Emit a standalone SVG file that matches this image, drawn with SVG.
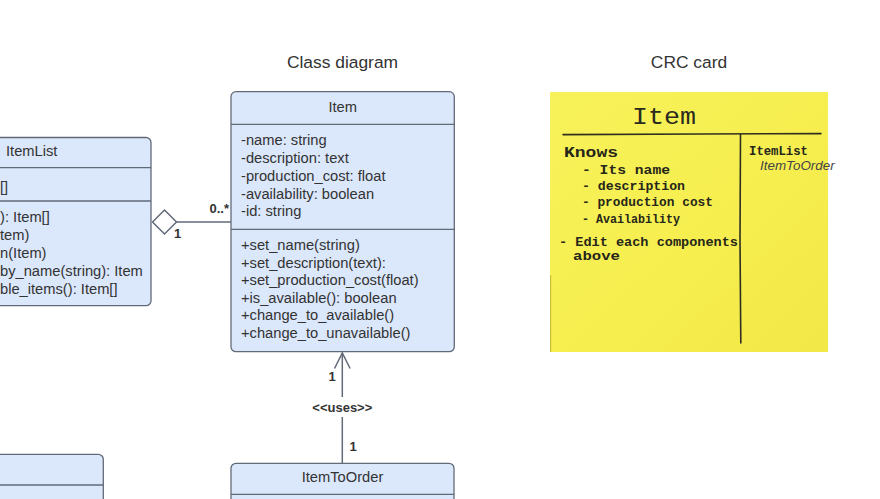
<svg xmlns="http://www.w3.org/2000/svg" width="880" height="499" viewBox="0 0 880 499">
<defs>
<style>
.box{fill:#dbe7fb;stroke:#626a78;stroke-width:1.3}
.div{stroke:#626a78;stroke-width:1.3;fill:none}
.t{font-family:"Liberation Sans",Arial,sans-serif;font-size:14.7px;fill:#333}
.title{font-family:"Liberation Sans",Arial,sans-serif;font-size:17.4px;fill:#333;text-anchor:middle}
.lbl{font-family:"Liberation Sans",Arial,sans-serif;font-size:13px;font-weight:bold;fill:#333}
.conn{stroke:#626a78;stroke-width:1.5;fill:none}
.hand{font-family:"Liberation Mono","DejaVu Sans Mono",monospace;fill:#26261a;font-weight:bold}
.ink{stroke:#2f2f20;stroke-width:1.6;fill:none;stroke-linecap:round}
</style>
<linearGradient id="note" x1="0" y1="0" x2="1" y2="1">
<stop offset="0" stop-color="#f8f25a"/>
<stop offset="0.6" stop-color="#f6ee4e"/>
<stop offset="1" stop-color="#f2e848"/>
</linearGradient>
</defs>
<rect width="880" height="499" fill="#ffffff"/>

<text class="title" x="342.5" y="68">Class diagram</text>
<text class="title" x="689" y="68">CRC card</text>

<g id="connectors">
<line class="conn" x1="176.5" y1="222" x2="231" y2="222"/>
<polygon points="152.5,222 164.5,210 176.5,222 164.5,234" fill="#ffffff" stroke="#626a78" stroke-width="1.5"/>
<text class="lbl" x="229" y="213" text-anchor="end">0..*</text>
<text class="lbl" x="174" y="237.5">1</text>
<line class="conn" x1="342.3" y1="353" x2="342.3" y2="397"/>
<line class="conn" x1="342.3" y1="417" x2="342.3" y2="463.3"/>
<polyline class="conn" points="334.5,368.5 342.3,353 350.1,368.5"/>
<text class="lbl" x="332" y="380.5" text-anchor="middle">1</text>
<text class="lbl" x="342.3" y="411.5" text-anchor="middle" font-size="13.8">&lt;&lt;uses&gt;&gt;</text>
<text class="lbl" x="353" y="451" text-anchor="middle">1</text>
</g>

<g id="ItemList">
<rect class="box" x="-20" y="137.5" width="171" height="168.2" rx="5"/>
<line class="div" x1="-20" y1="167.7" x2="151" y2="167.7"/>
<line class="div" x1="-20" y1="201" x2="151" y2="201"/>
<text class="t" x="6" y="156">ItemList</text>
<text class="t" x="0" y="192">[]</text>
<text class="t" x="0" y="222.3">): Item[]</text>
<text class="t" x="0" y="240.1">tem)</text>
<text class="t" x="0" y="257.9">n(Item)</text>
<text class="t" x="0" y="275.7">by_name(string): Item</text>
<text class="t" x="0" y="293.5">ble_items(): Item[]</text>
</g>

<g id="Item">
<rect class="box" x="231" y="91.7" width="223.3" height="260" rx="5"/>
<line class="div" x1="231" y1="124.3" x2="454.3" y2="124.3"/>
<line class="div" x1="231" y1="229.3" x2="454.3" y2="229.3"/>
<text class="t" x="342.7" y="112" text-anchor="middle">Item</text>
<text class="t" x="241" y="145.3">-name: string</text>
<text class="t" x="241" y="163">-description: text</text>
<text class="t" x="241" y="180.8">-production_cost: float</text>
<text class="t" x="241" y="198.5">-availability: boolean</text>
<text class="t" x="241" y="216.3">-id: string</text>
<text class="t" x="241" y="250.2">+set_name(string)</text>
<text class="t" x="241" y="267.8">+set_description(text):</text>
<text class="t" x="241" y="285.3">+set_production_cost(float)</text>
<text class="t" x="241" y="302.9">+is_available(): boolean</text>
<text class="t" x="241" y="320.4">+change_to_available()</text>
<text class="t" x="241" y="338">+change_to_unavailable()</text>
</g>

<g id="ItemToOrder">
<rect class="box" x="231" y="463.3" width="223" height="60" rx="5"/>
<line class="div" x1="231" y1="494.3" x2="454" y2="494.3"/>
<text class="t" x="342.5" y="482" text-anchor="middle">ItemToOrder</text>
</g>

<g id="BottomLeftClass">
<rect class="box" x="-20" y="454.3" width="123.3" height="70" rx="5"/>
<line class="div" x1="-20" y1="485" x2="103.3" y2="485"/>
</g>

<g id="CRCCard">
<rect x="550" y="92" width="278" height="260" fill="url(#note)"/>
<line x1="550.6" y1="275" x2="550.6" y2="352" stroke="#c9bd3a" stroke-width="1.2"/>
<path class="ink" d="M563,134.6 L700,134 L821,133.6"/>
<path class="ink" d="M740.5,134.5 L740,240 L740.8,343"/>
<text x="632" y="124" font-family="'Liberation Mono','DejaVu Sans Mono',monospace" fill="#2a2a1e" font-size="24" textLength="64" lengthAdjust="spacingAndGlyphs">Item</text>
<text class="hand" x="564" y="157" font-size="15" textLength="54" lengthAdjust="spacingAndGlyphs">Knows</text>
<text class="hand" x="582" y="174" font-size="13.5" textLength="88" lengthAdjust="spacingAndGlyphs">- Its name</text>
<text class="hand" x="582" y="190" font-size="13" textLength="103" lengthAdjust="spacingAndGlyphs">- description</text>
<text class="hand" x="582" y="206" font-size="13" textLength="131" lengthAdjust="spacingAndGlyphs">- production cost</text>
<text class="hand" x="582" y="223" font-size="13" textLength="98" lengthAdjust="spacingAndGlyphs">- Availability</text>
<text class="hand" x="559" y="246" font-size="12.5" textLength="179" lengthAdjust="spacingAndGlyphs">- Edit each components</text>
<text class="hand" x="573" y="260" font-size="12.5" textLength="47" lengthAdjust="spacingAndGlyphs">above</text>
<text class="hand" x="749" y="154.5" font-size="12" textLength="59" lengthAdjust="spacingAndGlyphs">ItemList</text>
<text x="760" y="170" font-family="'Liberation Sans',Arial,sans-serif" font-style="italic" font-size="13.4" fill="#444">ItemToOrder</text>
</g>
</svg>
